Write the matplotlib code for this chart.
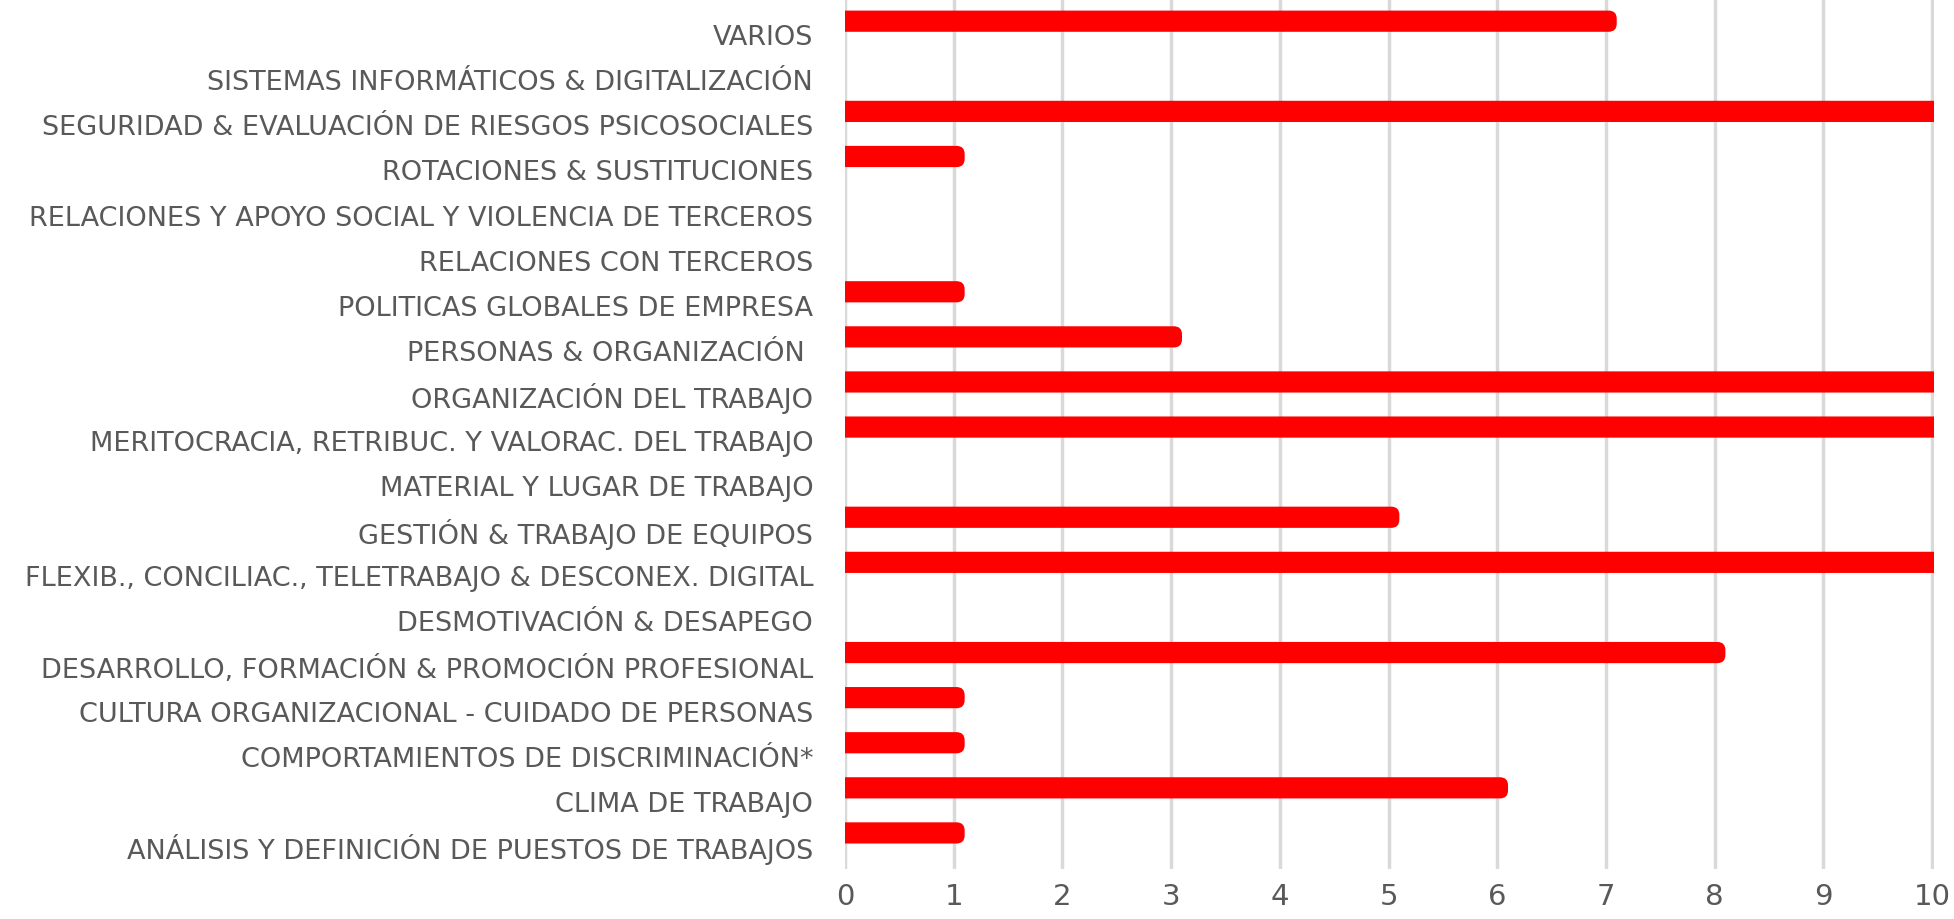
import matplotlib.pyplot as plt
from matplotlib.patches import FancyBboxPatch
from matplotlib.transforms import ScaledTranslation

# categorías de abajo hacia arriba (como en Excel)
categorias = [
    "ANÁLISIS Y DEFINICIÓN DE PUESTOS DE TRABAJOS",
    "CLIMA DE TRABAJO",
    "COMPORTAMIENTOS DE DISCRIMINACIÓN*",
    "CULTURA ORGANIZACIONAL - CUIDADO DE PERSONAS",
    "DESARROLLO, FORMACIÓN & PROMOCIÓN PROFESIONAL",
    "DESMOTIVACIÓN & DESAPEGO",
    "FLEXIB., CONCILIAC., TELETRABAJO & DESCONEX. DIGITAL",
    "GESTIÓN & TRABAJO DE EQUIPOS",
    "MATERIAL Y LUGAR DE TRABAJO",
    "MERITOCRACIA, RETRIBUC. Y VALORAC. DEL TRABAJO",
    "ORGANIZACIÓN DEL TRABAJO",
    "PERSONAS & ORGANIZACIÓN ",
    "POLITICAS GLOBALES DE EMPRESA",
    "RELACIONES CON TERCEROS",
    "RELACIONES Y APOYO SOCIAL Y VIOLENCIA DE TERCEROS",
    "ROTACIONES & SUSTITUCIONES",
    "SEGURIDAD & EVALUACIÓN DE RIESGOS PSICOSOCIALES",
    "SISTEMAS INFORMÁTICOS & DIGITALIZACIÓN",
    "VARIOS",
]
valores = [1, 6, 1, 1, 8, 0, 10, 5, 0, 10, 10, 3, 1, 0, 0, 1, 10, 0, 7]
ticks_x = list(range(0, 11))

plt.rcParams['font.family'] = ['DejaVu Sans']

fig = plt.figure(figsize=(19.54, 9.19), dpi=100)
ax = fig.add_axes([0.4325, 0.0544, 0.5573, 0.9456])

pos = list(range(len(categorias)))
barras = ax.barh(pos, valores, height=0.47, color='#ff0000')

# barras con extremo redondeado
for b in barras:
    w = b.get_width()
    b.set_visible(False)
    if w <= 0:
        continue
    p = FancyBboxPatch((b.get_x() - 0.1, b.get_y()), w + 0.2, b.get_height(),
                       boxstyle='round,pad=0,rounding_size=0.075',
                       mutation_aspect=2.4, facecolor='#ff0000', edgecolor='none')
    ax.add_patch(p)

ax.set_xlim(0, 10.02)
ax.set_ylim(-0.8, 18.47)
ax.set_xticks(ticks_x)
ax.set_yticks(pos, categorias)

ax.xaxis.grid(True, color='#d9d9d9', linewidth=2.5)
ax.set_axisbelow(True)
for s in ax.spines.values():
    s.set_visible(False)

ax.tick_params(axis='x', length=0, labelsize=21, labelcolor='#595959', pad=10)
ax.tick_params(axis='y', length=0, labelsize=19.5, labelcolor='#595959', pad=23)

# etiquetas un poco por debajo de la barra
desp = ScaledTranslation(0, -14 / 100, fig.dpi_scale_trans)
for lbl in ax.get_yticklabels():
    lbl.set_transform(lbl.get_transform() + desp)

fig.savefig("out.png", dpi=100)
plt.close()
